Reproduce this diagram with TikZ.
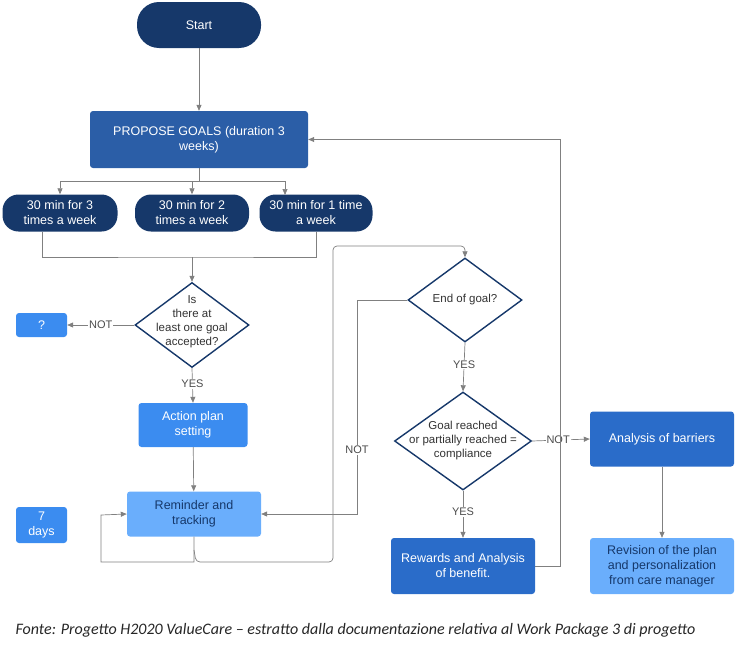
\documentclass[tikz,border=0pt]{standalone}
\usepackage{fontspec}
\setmainfont{Liberation Sans}
\newfontfamily\capfont{Carlito}
\usetikzlibrary{shapes.geometric,arrows.meta}
\definecolor{navy}{HTML}{16386A}
\definecolor{midb}{HTML}{2B5EA7}
\definecolor{darkb}{HTML}{2A6CC9}
\definecolor{brightb}{HTML}{3B8CF0}
\definecolor{lightb}{HTML}{6AAEFC}
\definecolor{ln}{HTML}{808080}
\begin{document}
\begin{tikzpicture}[x=1pt,y=-1pt,font=\fontsize{12.5}{15}\selectfont,
 box/.style={rectangle,rounded corners=3pt,inner sep=0pt,align=center,text=white},
 pill/.style={box,rounded corners=16pt,fill=navy},
 dia/.style={diamond,draw=navy,line width=1.4pt,fill=white,inner sep=0pt},
 dtext/.style={align=center,text=black!80,inner sep=0pt,font=\fontsize{11.5}{14}\selectfont},
 con/.style={draw=ln,line width=0.7pt},
 arr/.style={con,-{Triangle[width=5pt,length=6pt]}},
 lab/.style={fill=white,inner sep=1pt,text=black!70,font=\fontsize{11}{13}\selectfont}]
\useasboundingbox (0,0) rectangle (739,645);
\node[pill,minimum width=124,minimum height=46,rounded corners=22pt] (start) at (199,25) {Start};
\node[box,fill=midb,minimum width=218,minimum height=57] (prop) at (199,139.5) {PROPOSE GOALS (duration 3\\weeks)};
\node[pill,minimum width=115,minimum height=37] (p1) at (60,213) {30 min for 3\\times a week};
\node[pill,minimum width=114,minimum height=37] (p2) at (192,213) {30 min for 2\\times a week};
\node[pill,minimum width=113,minimum height=37] (p3) at (316,213) {30 min for 1 time\\a week};
\node[dia,minimum width=114,minimum height=85] (d1) at (192,325) {};
\node[dtext] (d1t) at (192,322) {Is\\there at\\least one goal\\accepted?};
\node[box,fill=brightb,minimum width=51,minimum height=24] (q) at (41.5,325) {?};
\node[box,fill=brightb,minimum width=109,minimum height=44] (act) at (193,425) {Action plan\\setting};
\node[box,fill=lightb,minimum width=134,minimum height=45,text=navy] (rem) at (194,514) {Reminder and\\tracking};
\node[box,fill=brightb,minimum width=51,minimum height=36] (days) at (41.5,525) {7\\days};
\node[dia,minimum width=114,minimum height=84] (d2) at (465,300) {};
\node[dtext] (d2t) at (d2) {End of goal?};
\node[dia,minimum width=137,minimum height=98] (d3) at (463,441) {};
\node[dtext] (d3t) at (d3) {Goal reached\\or partially reached =\\compliance};
\node[box,fill=darkb,minimum width=144,minimum height=55] (ana) at (662,439) {Analysis of barriers};
\node[box,fill=darkb,minimum width=144,minimum height=56] (rew) at (463,566) {Rewards and Analysis\\of benefit.};
\node[box,fill=lightb,minimum width=144,minimum height=56,text=navy] (rev) at (662,566) {Revision of the plan\\and personalization\\from care manager};
\node[anchor=west,font=\capfont\itshape\fontsize{16}{18}\selectfont,text=black!85] (cap) at (12,630) {Fonte: Progetto H2020 ValueCare – estratto dalla documentazione relativa al Work Package 3 di progetto};
% connectors
\draw[arr] (start) -- (prop);
\coordinate (j) at (199,181);
\draw[con] (prop.south) -- (j);
\draw[arr] (j) -| (p1.north);
\draw[arr] (j) -| (p2.north);
\draw[arr] (j) -| (285,195);
\coordinate (k) at (192,257);
\draw[con] (42,232) |- (k) -| (p3.south);
\draw[arr] (k) -- (d1.north);
\draw[arr] (d1.west) -- node[lab]{NOT} (q.east);
\draw[arr] (d1.south) -- node[lab,pos=0.45]{YES} (act.north);
\draw[arr] (act) -- (rem);
\draw[arr] (rem.south) -- (194,562) -| (101,515) -- (rem.west);
\draw[arr,rounded corners=4pt] (194,550) -- (196,562) -- (333,562) -- (333,246) -| (d2.north);
\draw[arr] (d2.west) -- (357,300) |- node[lab,pos=0.35]{NOT} (rem.east);
\draw[arr] (d2.south) -- node[lab,pos=0.45]{YES} (d3.north);
\draw[arr] (d3.east) -- node[lab,pos=0.45]{NOT} (ana.west);
\draw[arr] (d3.south) -- node[lab,pos=0.45]{YES} (rew.north);
\draw[arr] (ana) -- (rev);
\draw[arr] (rew.east) -- (560,566) |- (prop.east);
\end{tikzpicture}
\end{document}
